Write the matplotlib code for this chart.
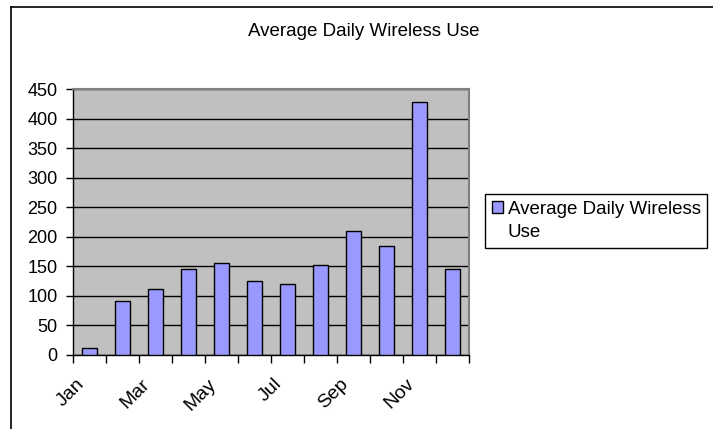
import matplotlib.pyplot as plt
import matplotlib.transforms as mtransforms
from matplotlib.lines import Line2D
from matplotlib.patches import Rectangle
import numpy as np

plt.rcParams['font.family'] = ['Liberation Sans', 'DejaVu Sans']

months = ['Jan', 'Feb', 'Mar', 'Apr', 'May', 'Jun',
          'Jul', 'Aug', 'Sep', 'Oct', 'Nov', 'Dec']
usage = [11, 91, 111, 145, 155, 125, 120, 153, 210, 185, 428, 145]
shown_labels = ['Jan', '', 'Mar', '', 'May', '', 'Jul', '', 'Sep', '', 'Nov', '']
legend_lines = ['Average Daily Wireless', 'Use']

fig = plt.figure(figsize=(7.13, 4.29), dpi=100)
ax = fig.add_axes([0.1024, 0.1725, 0.5554, 0.62])

x = np.arange(len(months))
bars = ax.bar(x, usage, width=0.45, color='#9999FF', edgecolor='black',
              linewidth=1, zorder=3)

ax.set_facecolor('#C0C0C0')
ax.set_xlim(-0.5, len(months) - 0.5)
ax.set_ylim(0, 450)
ax.set_yticks(range(0, 451, 50))
ax.yaxis.grid(True, color='black', linewidth=1)
ax.set_axisbelow(True)

ax.set_xticks(x)
ax.set_xticks(np.arange(-0.5, len(months), 1), minor=True)
ax.tick_params(axis='x', which='major', length=0, pad=19)
ax.tick_params(axis='x', which='minor', length=6, width=1, color='black',
               direction='out')
ax.tick_params(axis='y', length=5, width=1, direction='out', pad=6,
               labelsize=13)
ax.set_xticklabels(shown_labels, rotation=45, ha='right', va='center',
                   rotation_mode='anchor', fontsize=14)
# nudge the rotated month labels left, as in the original
shift = mtransforms.ScaledTranslation(-8 / 100, 0, fig.dpi_scale_trans)
for lab in ax.get_xticklabels():
    lab.set_transform(lab.get_transform() + shift)

for side in ['top', 'right']:
    ax.spines[side].set_color('#808080')
    ax.spines[side].set_linewidth(1.5)
for side in ['left', 'bottom']:
    ax.spines[side].set_color('black')
    ax.spines[side].set_linewidth(1)

fig.text(364 / 713, 1 - 32 / 429, 'Average Daily Wireless Use', ha='center',
         va='center', fontsize=13.5)

blank = Rectangle((0, 0), 1, 1, fill=False, edgecolor='none')
leg = fig.legend([bars.patches[0], blank], legend_lines, loc='upper left',
                 bbox_to_anchor=(485 / 713, 1 - 194 / 429),
                 bbox_transform=fig.transFigure, fancybox=False,
                 edgecolor='black', fontsize=13.5, handlelength=0.6,
                 handleheight=0.6, handletextpad=0.25, borderpad=0.35,
                 labelspacing=0.35, borderaxespad=0, framealpha=1)
leg.get_frame().set_linewidth(1)

# outer chart frame (only left and top edges visible in the crop)
fig.add_artist(Line2D([11 / 713, 11 / 713], [0, 1 - 6.5 / 429],
                      transform=fig.transFigure, color='black', linewidth=1.2))
fig.add_artist(Line2D([11 / 713, 1], [1 - 6.5 / 429, 1 - 6.5 / 429],
                      transform=fig.transFigure, color='black', linewidth=1.2))

fig.savefig('out.png', dpi=100)
